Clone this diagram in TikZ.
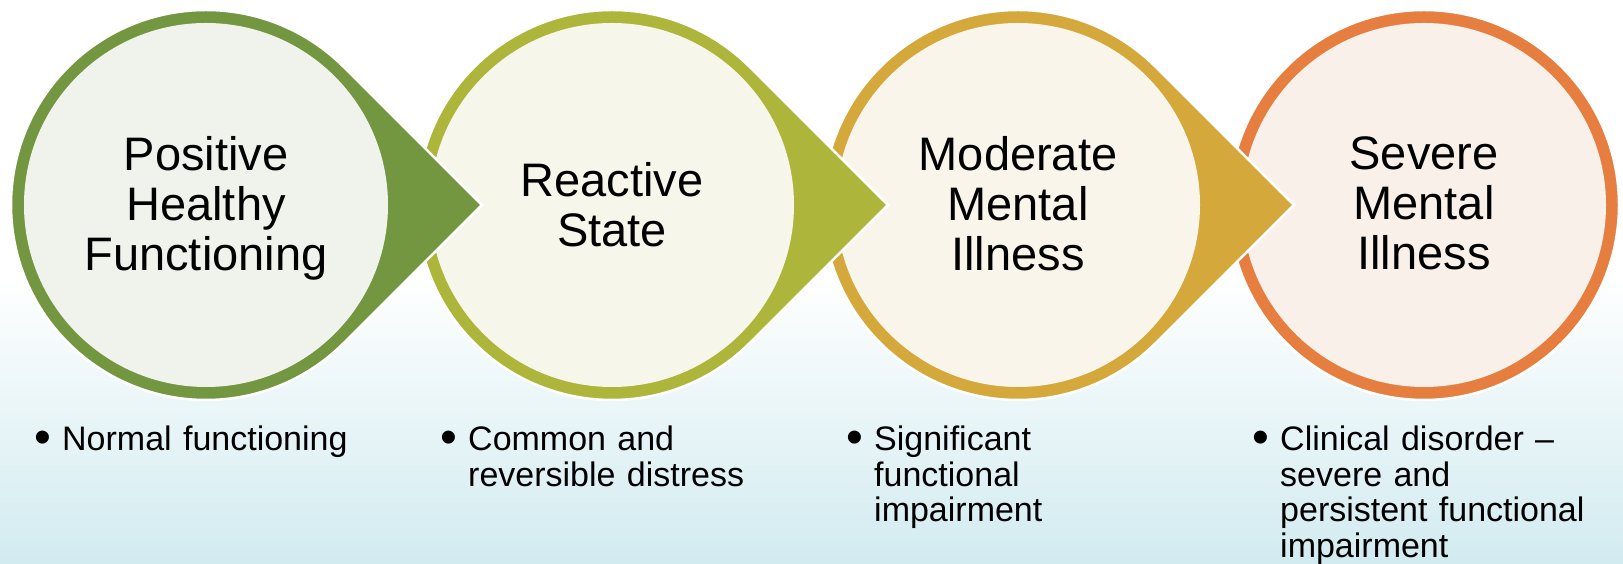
\documentclass[tikz,border=0pt]{standalone}
\usepackage{fontspec}
\setmainfont{Liberation Sans}
\usetikzlibrary{calc}
\hyphenpenalty=10000

% stage colours: ring / inner fill
\definecolor{ringA}{HTML}{739641}
\definecolor{fillA}{HTML}{F0F3EB}
\definecolor{ringB}{HTML}{ADB63A}
\definecolor{fillB}{HTML}{F6F6EA}
\definecolor{ringC}{HTML}{D4A83A}
\definecolor{fillC}{HTML}{FAF5EA}
\definecolor{ringD}{HTML}{E67E40}
\definecolor{fillD}{HTML}{FAF0EA}
\definecolor{skyblue}{HTML}{D2EBF0}

\tikzset{
  stagetitle/.style={align=center, inner sep=0pt, anchor=north,
    font=\fontsize{47}{50}\selectfont},
  bulletmark/.style={inner sep=0pt, anchor=base west,
    font=\fontsize{48}{50}\selectfont},
  bullettext/.style={inner sep=0pt, anchor=north west, align=left,
    text width=360pt, font=\fontsize{34}{35.5}\selectfont},
}

% teardrop pointing right: #1 centre, #2 ring colour, #3 fill colour
\newcommand{\stagedrop}[3]{%
  \fill[#2, draw=white, line width=2.5pt]
    ($(#1)+(276,0)$) -- ($(#1)+(45:195)$)
    arc[start angle=45, end angle=315, radius=195] -- cycle;
  \fill[#3] (#1) circle[radius=182];
}
\newcommand{\stageround}[3]{%
  \fill[#2, draw=white, line width=2.5pt] (#1) circle[radius=195];
  \fill[#3] (#1) circle[radius=182];
}

\begin{document}
\begin{tikzpicture}[x=1pt, y=1pt]
  % background: white above, soft blue towards the bottom
  \fill[white] (0,0) rectangle (1623,564);
  \shade[top color=white, bottom color=skyblue] (0,0) rectangle (1623,290);
  \useasboundingbox (0,0) rectangle (1623,564);

  \coordinate (cA) at (206,359);
  \coordinate (cB) at (612,359);
  \coordinate (cC) at (1018,359);
  \coordinate (cD) at (1424,359);

  % drawn right to left so that each point lies on top of the next stage
  \stageround{cD}{ringD}{fillD}
  \stagedrop{cC}{ringC}{fillC}
  \stagedrop{cB}{ringB}{fillB}
  \stagedrop{cA}{ringA}{fillA}

  \node[stagetitle] (tA) at (206,428) {Positive\\Healthy\\Functioning};
  \node[stagetitle] (tB) at (612,402) {Reactive\\State};
  \node[stagetitle] (tC) at (1018,428) {Moderate\\Mental\\Illness};
  \node[stagetitle] (tD) at (1424,428) {Severe\\Mental\\Illness};

  \node[bulletmark] (bA) at (34,110) {•};
  \node[bulletmark] (bB) at (440,110) {•};
  \node[bulletmark] (bC) at (846,110) {•};
  \node[bulletmark] (bD) at (1252,110) {•};

  \node[bullettext] (dA) at (62,138) {Normal functioning};
  \node[bullettext] (dB) at (468,138) {Common and\\reversible distress};
  \node[bullettext] (dC) at (874,138) {Significant\\functional\\impairment};
  \node[bullettext] (dD) at (1280,138) {Clinical disorder –\\severe and\\persistent functional\\impairment};
\end{tikzpicture}
\end{document}
